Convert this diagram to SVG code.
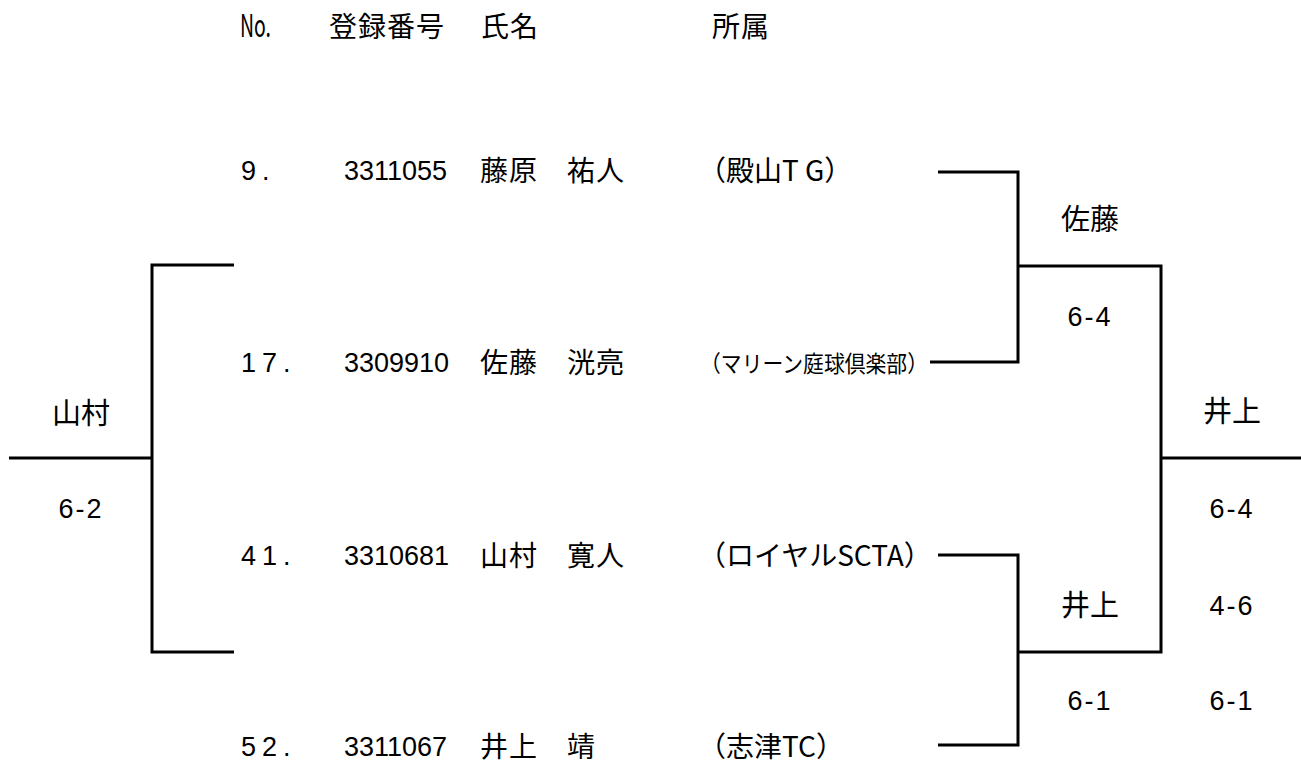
<svg xmlns="http://www.w3.org/2000/svg" width="1301" height="765" viewBox="0 0 1301 765">
<style>
text{fill:#000;font-family:"Noto Sans CJK JP","Liberation Sans",sans-serif;}
.n{font-family:"Liberation Sans","Noto Sans CJK JP",sans-serif;font-size:27px;}
.no{font-family:"Liberation Sans","Noto Sans CJK JP",sans-serif;font-size:27px;letter-spacing:6px;}
.j{font-size:28px;letter-spacing:1px;}
.a{font-size:28px;}
.s{font-family:"Liberation Sans","Noto Sans CJK JP",sans-serif;font-size:27px;letter-spacing:2px;text-anchor:middle;}
.w{font-size:29px;text-anchor:middle;}
.ln{fill:none;stroke:#000;stroke-width:3;}
</style>
<rect width="1301" height="765" fill="#fff"/>
<g id="header">
<text x="240" y="37" font-family="Liberation Sans,sans-serif" font-size="31" textLength="31" lengthAdjust="spacingAndGlyphs">No.</text>
<text class="j" x="329" y="37">登録番号</text>
<text class="j" x="481" y="37">氏名</text>
<text class="j" x="712" y="37">所属</text>
</g>
<g id="player9">
<text class="no" x="241" y="180">9.</text>
<text class="n" x="344" y="180">3311055</text>
<text class="j" x="480" y="181">藤原　祐人</text>
<text class="a" x="698" y="181">（殿山T G）</text>
</g>
<g id="player17">
<text class="no" x="241" y="372">17.</text>
<text class="n" x="344" y="372">3309910</text>
<text class="j" x="480" y="373">佐藤　洸亮</text>
<text x="700" y="372" font-size="23" textLength="228" lengthAdjust="spacingAndGlyphs">（マリーン庭球倶楽部）</text>
</g>
<g id="player41">
<text class="no" x="241" y="565">41.</text>
<text class="n" x="344" y="565">3310681</text>
<text class="j" x="480" y="566">山村　寛人</text>
<text class="a" x="698" y="566">（ロイヤルSCTA）</text>
</g>
<g id="player52">
<text class="no" x="241" y="756">52.</text>
<text class="n" x="344" y="756">3311067</text>
<text class="j" x="480" y="757">井上　靖</text>
<text class="a" x="698" y="757">（志津TC）</text>
</g>
<g id="connectors">
<polyline class="ln" points="938,172 1018,172 1018,362 930,362"/>
<polyline class="ln" points="938,555 1018,555 1018,745 938,745"/>
<polyline class="ln" points="1018,266 1161,266 1161,652 1018,652"/>
<line class="ln" x1="1161" y1="458" x2="1301" y2="458"/>
<polyline class="ln" points="234,265 152,265 152,652 234,652"/>
<line class="ln" x1="9" y1="458" x2="152" y2="458"/>
</g>
<g id="results">
<text class="w" x="1090" y="230">佐藤</text>
<text class="s" x="1090" y="326">6-4</text>
<text class="w" x="1090" y="616">井上</text>
<text class="s" x="1090" y="710">6-1</text>
<text class="w" x="1232" y="422">井上</text>
<text class="s" x="1232" y="518">6-4</text>
<text class="s" x="1232" y="615">4-6</text>
<text class="s" x="1232" y="710">6-1</text>
<text class="w" x="81" y="424">山村</text>
<text class="s" x="81" y="518">6-2</text>
</g>
</svg>
